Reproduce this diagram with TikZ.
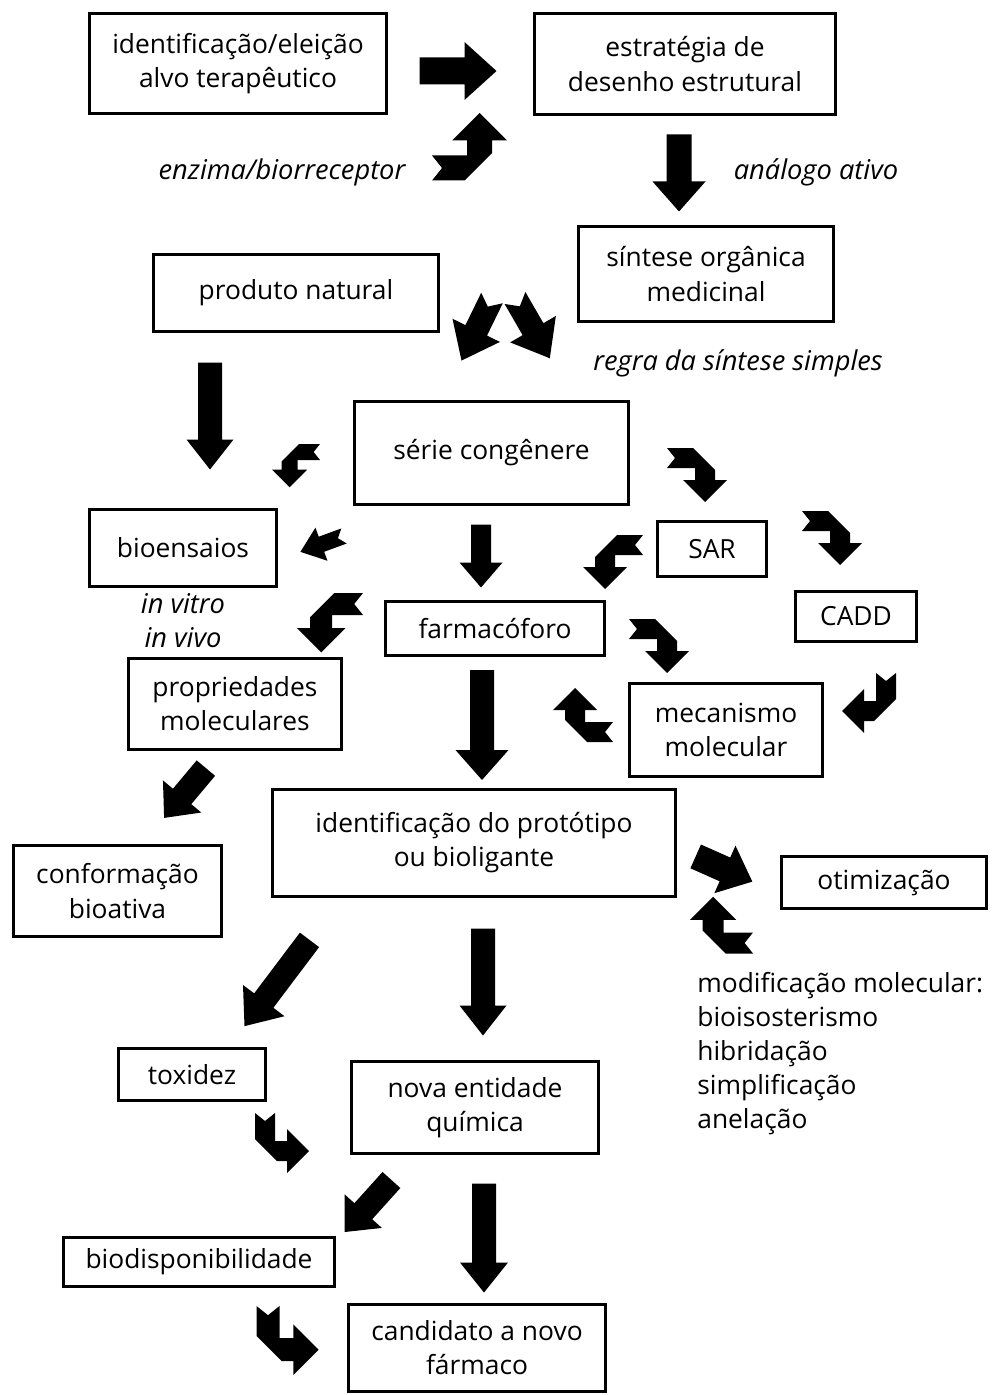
\documentclass[tikz,border=0pt]{standalone}
\usepackage{fontspec}
\setmainfont{Open Sans}
\usetikzlibrary{positioning}

\newcommand{\boxfont}{\fontsize{15}{19.4}\selectfont}
% straight block arrow: centre, angle, length, shaft, head width, head length
\newcommand{\blockarrow}[6]{%
  \fill[shift={#1}, rotate=#2]
    ({-#3/2},{-#4/2}) -- ({#3/2-#6},{-#4/2}) -- ({#3/2-#6},{-#5/2})
    -- ({#3/2},0) -- ({#3/2-#6},{#5/2}) -- ({#3/2-#6},{#4/2})
    -- ({-#3/2},{#4/2}) -- cycle;}

\tikzset{
  box/.style 2 args={draw, line width=0.55mm, minimum width=#1*0.2mm,
    minimum height=#2*0.2mm, inner sep=0pt, align=center, font=\boxfont},
  note/.style={font=\fontsize{15.5}{19.4}\selectfont\itshape, inner sep=0pt, align=center},
  % bent arrow with notched tail: down, then right
  bent/.pic={
    \fill (-10,0) -- (0,8) -- (10,0) -- (10,28) -- (22,28) -- (22,16)
      -- (44,38) -- (22,60) -- (22,48) -- (12,48) -- (-10,26) -- cycle;
  },
  % straight arrow with notched tail, pointing down
  notched/.pic={
    \fill (-10,0) -- (0,8) -- (10,0) -- (10,30) -- (22,30) -- (0,58)
      -- (-22,30) -- (-10,30) -- cycle;
  }
}

\begin{document}
\begin{tikzpicture}[x=0.2mm, y=-0.2mm]
\useasboundingbox (0,0) rectangle (1000,1395);

% boxes
\node[box={297}{100}] (alvo) at (238,63.5) {identificação/eleição\\alvo terapêutico};
\node[box={301}{101}] (estrategia) at (685,64) {estratégia de\\desenho estrutural};
\node[box={255}{95}] (sintese) at (706,274) {síntese orgânica\\medicinal};
\node[box={285}{77}] (natural) at (296,293) {produto natural};
\node[box={274}{103}] (serie) at (491.5,453) {série congênere};
\node[box={187}{77}] (bioensaios) at (183,548) {bioensaios};
\node[box={109}{55}] (sar) at (712,549) {SAR};
\node[box={121}{50}] (cadd) at (856,616.5) {CADD};
\node[box={219}{54}] (farmacoforo) at (495,628.5) {farmacóforo};
\node[box={213}{91}] (propriedades) at (235,704) {propriedades\\moleculares};
\node[box={193}{93}] (mecanismo) at (726,730) {mecanismo\\molecular};
\node[box={403}{107}] (prototipo) at (474,843) {identificação do protótipo\\ou bioligante};
\node[box={208}{91}] (conformacao) at (117.5,891) {conformação\\bioativa};
\node[box={205}{52}] (otimizacao) at (884,882.5) {otimização};
\node[box={147}{52}] (toxidez) at (192,1074.5) {toxidez};
\node[box={247}{92}] (entidade) at (475,1107.5) {nova entidade\\química};
\node[box={271}{49}] (biodisp) at (199,1262) {biodisponibilidade};
\node[box={257}{87}] (candidato) at (477,1348) {candidato a novo\\fármaco};

% labels
\node[note] (enzima) at (282,172) {enzima/biorreceptor};
\node[note] (analogo) at (816,172) {análogo ativo};
\node[note] (regra) at (738,363) {regra da síntese simples};
\node[note] (vitro) at (183,621) {in vitro\\in vivo};
\node[font=\boxfont, align=left, anchor=north west, inner sep=0pt] (modif)
  at (697,972) {modificação molecular:\\bioisosterismo\\hibridação\\simplificação\\anelação};

% straight arrows
\blockarrow{(458,71)}{0}{77}{27}{58}{32}
\blockarrow{(679,173)}{-90}{77}{25}{53}{30}
\blockarrow{(210,416)}{-90}{107}{24}{47}{30}
\blockarrow{(481,556)}{-90}{63}{20}{43}{25}
\blockarrow{(482,725)}{-90}{110}{24}{53}{30}
\blockarrow{(185,793)}{230}{65}{24}{50}{28}
\blockarrow{(724,869)}{-24}{62}{26}{52}{30}
\blockarrow{(277,983)}{233}{108}{24}{52}{32}
\blockarrow{(483,982)}{-90}{107}{24}{47}{30}
\blockarrow{(368,1206)}{228}{70}{24}{50}{28}
\blockarrow{(484,1238)}{-90}{109}{24}{48}{30}

% bent and notched arrows
\pic[rotate=90, scale=1.25] at (432,168) {bent};
\pic[rotate=-26, scale=1.2] at (492,298) {notched};
\pic[rotate=30, scale=1.2] at (515,298) {notched};
\pic[rotate=-90, scale=0.8] at (320,452) {bent};
\pic[rotate=-70, scale=0.8] at (344,536) {notched};
\pic[rotate=90, xscale=-1] at (667,458) {bent};
\pic[rotate=90, xscale=-1] at (802,521) {bent};
\pic[rotate=-90] at (643,545) {bent};
\pic[rotate=-90, scale=1.1] at (363,604) {bent};
\pic[rotate=90, xscale=-1] at (629,629) {bent};
\pic[rotate=-90, xscale=-1] at (613,732) {bent};
\pic[xscale=-1] at (886,673) {bent};
\pic[rotate=-90, xscale=-1, scale=1.05] at (753,943) {bent};
\pic at (265,1113) {bent};
\pic[scale=1.15] at (268,1306) {bent};
\end{tikzpicture}
\end{document}
